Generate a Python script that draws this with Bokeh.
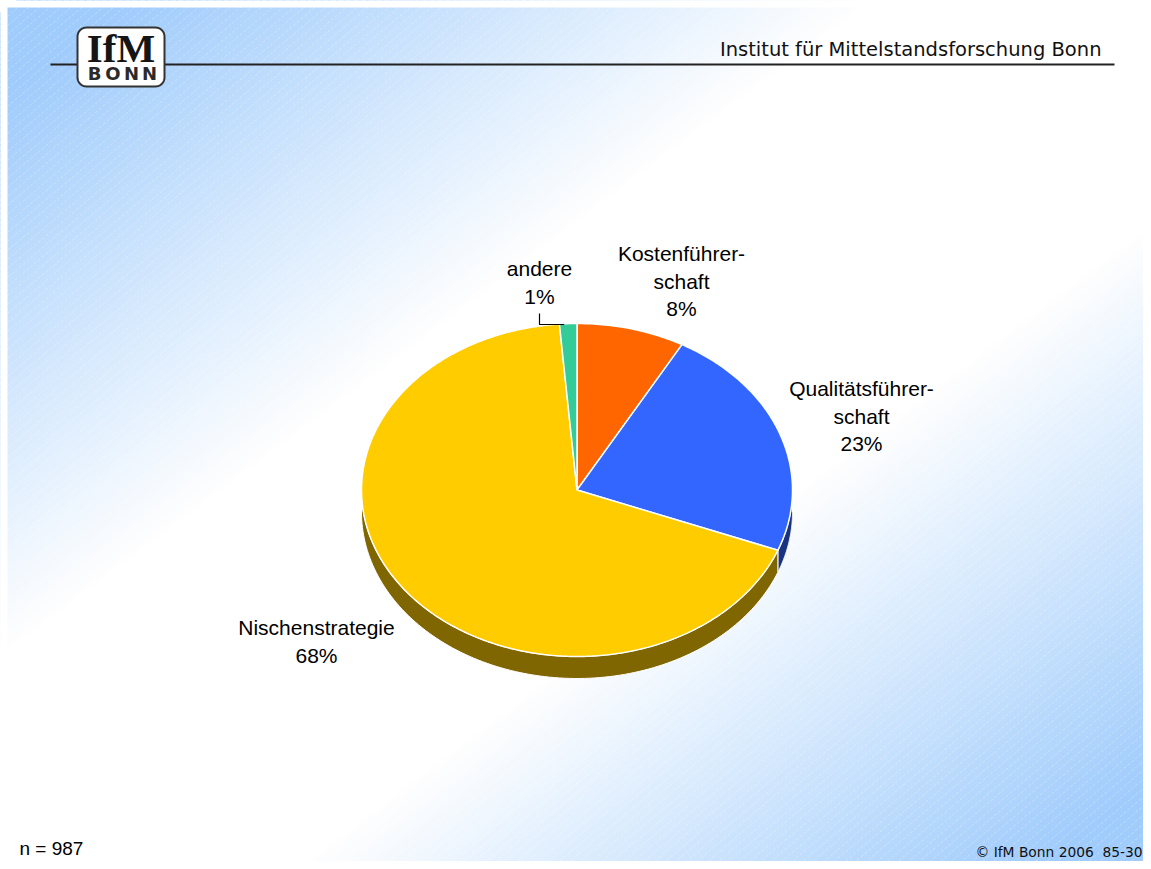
import numpy as np
from bokeh.plotting import figure
from bokeh.models import Range1d
from bokeh.core.properties import value
from bokeh.embed import file_html
from bokeh.resources import INLINE

# ---------------- data ----------------
categories = ["Kostenführerschaft", "Qualitätsführerschaft", "Nischenstrategie", "andere"]
shares = [8.1, 22.8, 67.8, 1.3]          # drawn slice sizes (percent)
shown_pct = [8, 23, 68, 1]               # printed percentages
label_names = [["Kostenführer-", "schaft"], ["Qualitätsführer-", "schaft"], ["Nischenstrategie"], ["andere"]]
n_total = 987
title_text = "Institut für Mittelstandsforschung Bonn"
footer_text = "© IfM Bonn 2006\u00a0\u00a085-30"

# ---------------- style / layout ----------------
top_colors = ["#FF6600", "#3366FF", "#FFCC00", "#33CC99"]
side_colors = ["#803300", "#1A3380", "#806600", "#1A664D"]
label_x = [681, 861, 316, 539]
label_y0 = [261, 396, 635, 276]   # first baseline
line_step = 27.5
CX, CY, RA, RB, DEPTH = 576.5, 489.5, 215.5, 166.5, 22
BLUE = np.array([160, 204, 252])
BASE_SHIFT = 0.38   # baseline correction (fraction of font size)

W, H = 1143, 861
p = figure(width=W, height=H, x_range=Range1d(0, W), y_range=Range1d(H, 0),
           output_backend="svg", toolbar_location=None, min_border=0,
           x_axis_location=None, y_axis_location=None)
p.xgrid.visible = False
p.ygrid.visible = False
p.outline_line_color = None
p.background_fill_color = "white"
p.border_fill_color = "white"


def txt(xs, ys, texts, font, size, **kw):
    ys = [y - BASE_SHIFT * size for y in ys]
    p.text(xs, ys, text=texts, text_font=value(font), text_font_size=f"{size}px",
           text_baseline="alphabetic", **kw)


# ---------------- background gradient (starts after a thin white margin) ----------------
M = 7
GW, GH = 1151 - M, 869 - M
N = 300
bx, by, bc = [], [], []
for i in range(N):
    s0, s1 = 2 * i / N, 2 * (i + 1) / N
    sm = 0.5 * (s0 + s1)
    d = min(sm, 2 - sm)
    f = float(np.clip((0.75 - d) / 0.65, 0, 1))
    c = (255 * (1 - f) + BLUE * f).astype(int)
    u0, u1 = -2.5, 2.5
    xs = [GW * (s0 + u0), GW * (s0 + u1), GW * (s1 + u1), GW * (s1 + u0)]
    ys = [-GH * u0, -GH * u1, -GH * u1, -GH * u0]
    bx.append([x + M for x in xs])
    by.append([y + M for y in ys])
    bc.append("#%02x%02x%02x" % tuple(c))
p.patches(bx, by, fill_color=bc, line_color=bc, line_width=1)

# faint diagonal stripes
k = 0.85
sx, sy = [], []
for c0 in np.arange(0, GH + k * GW + 10, 9):
    sx.append([M, M + GW])
    sy.append([M + c0, M + c0 - k * GW])
p.multi_line(sx, sy, line_color="white", line_alpha=0.3, line_width=1, line_dash="3 2")

# white margin strips (left / top)
p.quad(left=[0, 0], right=[M, W], bottom=[H, M], top=[0, 0], fill_color="white", line_color=None)

# ---------------- header ----------------
p.line([50, 1114], [64, 64], line_color="#222222", line_width=2)
# rounded logo box
L, R, T, B, rad = 77, 164, 27, 86, 9
pts = []
for (ccx, ccy, a0) in [(R - rad, T + rad, -90), (R - rad, B - rad, 0), (L + rad, B - rad, 90), (L + rad, T + rad, 180)]:
    for ang in np.linspace(a0, a0 + 90, 10):
        pts.append((ccx + rad * np.cos(np.radians(ang)), ccy + rad * np.sin(np.radians(ang))))
p.patch([q[0] for q in pts], [q[1] for q in pts], fill_color="white", line_color="#333333", line_width=2)
txt([120.5], [63], ["IfM"], "Liberation Serif", 41, text_font_style="bold",
    text_align="center", text_color="#151515")
for ch, xx in zip("BONN", [94, 112.5, 131, 149]):
    txt([xx], [80], [ch], "DejaVu Sans", 18, text_font_style="bold",
        text_align="center", text_color="#2a2a2a")
txt([1101], [56], [title_text], "DejaVu Sans", 19.5, text_align="right", text_color="#111111")

# ---------------- pie ----------------
vals = np.array(shares, dtype=float)
cum = np.concatenate([[0], np.cumsum(vals)]) / vals.sum() * 2 * np.pi


def ell(t, dy=0.0):
    return CX + RA * np.sin(t), CY - RB * np.cos(t) + dy


# side walls (front half: 90..270 degrees)
side_x, side_y, side_c = [], [], []
for i in range(len(vals)):
    t0, t1 = max(cum[i], np.pi / 2), min(cum[i + 1], 1.5 * np.pi)
    if t1 <= t0:
        continue
    tt = np.linspace(t0, t1, 120)
    xt, yt = ell(tt)
    xb, yb = ell(tt[::-1], DEPTH)
    side_x.append(list(xt) + list(xb))
    side_y.append(list(yt) + list(yb))
    side_c.append(side_colors[i])
p.patches(side_x, side_y, fill_color=side_c, line_color="white", line_width=1)

# top faces
wx, wy = [], []
for i in range(len(vals)):
    tt = np.linspace(cum[i], cum[i + 1], max(4, int((cum[i + 1] - cum[i]) * 80)))
    xt, yt = ell(tt)
    wx.append([CX] + list(xt))
    wy.append([CY] + list(yt))
p.patches(wx, wy, fill_color=top_colors, line_color="white", line_width=1.5)

# labels
for i in range(len(vals)):
    lines = label_names[i] + [f"{shown_pct[i]}%"]
    ys = [label_y0[i] + j * line_step for j in range(len(lines))]
    txt([label_x[i]] * len(lines), ys, lines, "Liberation Sans", 21,
        text_align="center", text_color="#000000")

# leader line for the small slice
mx, my = ell(0.5 * (cum[-2] + cum[-1]))
p.line([539, 539, mx - 4], [313, 324, 324], line_color="#000000", line_width=1.2)

# ---------------- footer ----------------
txt([19], [855], [f"n = {n_total}"], "Liberation Sans", 19, text_align="left", text_color="#000000")
txt([975], [857], [footer_text], "DejaVu Sans", 13.8, text_align="left", text_color="#111111")

open("out.html", "w").write(file_html(p, INLINE))
